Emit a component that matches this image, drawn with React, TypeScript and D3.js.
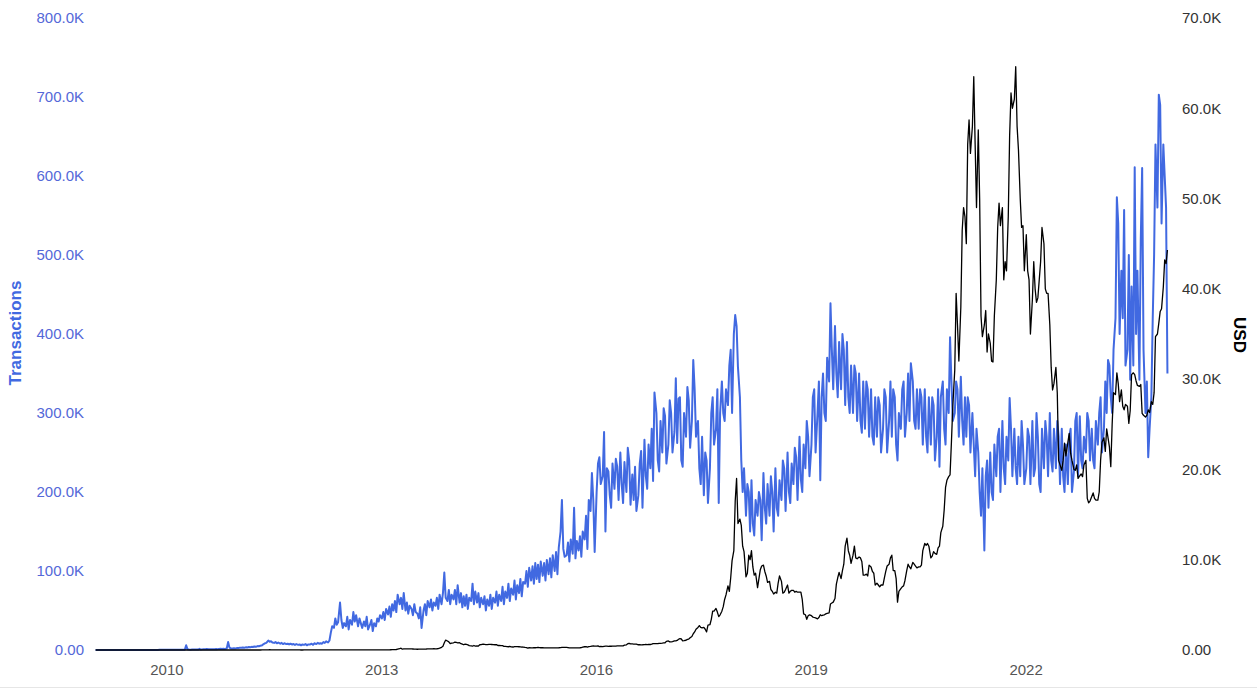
import React, { useMemo } from "react";
import * as d3 from "d3";

// daily transactions (4 samples per month), one array per year
const tx2009 = [0.1,0.1,0.1,0.1, 0.1,0.1,0.1,0.1, 0.1,0.1,0.1,0.1, 0.1,0.1,0.1,0.1, 0.1,0.1,0.1,0.1, 0.1,0.1,0.1,0.1, 0.1,0.1,0.1,0.1, 0.1,0.1,0.1,0.1, 0.1,0.1,0.1,0.1, 0.1,0.1,0.1,0.1, 0.1,0.1,0.1,0.2, 0.2,0.2,0.2,0.2];
const tx2010 = [0.2,0.3,0.2,0.3, 0.3,0.2,0.3,0.3, 0.3,0.4,0.3,0.4, 0.4,6.0,0.8,0.5, 0.4,0.5,0.6,0.5, 0.5,0.6,1.5,0.6, 0.8,1.0,0.9,1.2, 1.0,1.1,0.9,1.0, 1.0,1.2,1.1,1.3, 1.5,1.2,1.6,1.4, 1.8,10.0,3.0,2.0, 1.8,2.2,2.0,2.4];
const tx2011 = [2.5,3.0,2.8,3.2, 3.0,3.5,3.2,3.8, 3.5,4.0,3.8,4.5, 4.2,5.0,4.8,5.5, 6.0,7.5,8.5,9.0, 12.0,10.5,11.0,9.5, 9.0,10.0,8.5,9.5, 8.0,9.0,7.5,8.5, 7.5,8.0,7.0,8.0, 7.0,7.5,6.5,7.5, 6.5,7.0,6.0,7.0, 6.5,7.5,6.0,7.0];
const tx2012 = [7,8,6.5,8.5, 7.5,9,8,8.5, 8,10,9,11, 9.5,12,22,30, 28,40,32,35, 60,38,28,34, 30,42,26,38, 32,48,36,44, 30,40,34,28, 36,30,42,26, 32,38,24,34, 30,40,36,44];
const tx2013 = [40,48,38,52, 45,55,42,58, 50,62,48,70, 58,66,52,72, 50,60,46,56, 52,44,58,48, 46,40,54,28, 50,58,44,62, 54,64,50,60, 56,66,52,70, 58,72,98,66, 62,76,58,70];
const tx2014 = [64,76,58,82, 60,72,54,68, 56,70,52,66, 62,84,58,74, 60,72,54,66, 58,68,50,64, 56,70,52,66, 60,74,56,70, 62,80,58,74, 66,84,62,78, 70,88,64,82, 72,90,68,86];
const tx2015 = [84,100,80,104, 88,106,84,110, 90,108,86,112, 94,110,88,114, 96,116,92,120, 100,124,96,130, 150,190,128,118, 120,136,112,140, 122,180,116,138, 126,144,118,150, 140,170,128,190, 176,224,190,124];
const tx2016 = [200,236,244,210, 220,276,150,230, 226,196,180,236, 204,242,232,190, 250,210,186,238, 200,256,240,184, 222,190,232,176, 196,236,252,180, 266,220,204,260, 230,280,214,326, 300,240,226,290, 250,306,296,236];
const tx2017 = [260,316,300,250, 276,344,262,318, 320,240,232,300, 270,333,316,256, 290,367,330,270, 290,230,210,270, 196,250,240,186, 230,300,320,260, 280,330,186,300, 340,300,290,330, 310,360,380,300, 400,424,410,358];
const tx2018 = [320,240,200,230, 170,210,200,150, 215,160,145,190, 170,200,190,139, 224,180,160,210, 170,220,200,150, 230,180,170,215, 190,240,230,176, 250,200,186,236, 210,256,244,190, 270,216,200,260, 230,290,270,220];
const tx2019 = [260,320,330,250, 300,340,215,320, 350,300,290,370, 340,439,380,330, 410,350,320,390, 330,400,380,310, 390,320,300,360, 300,360,350,290, 350,290,275,340, 280,340,330,270, 330,270,260,320, 270,320,310,250];
const tx2020 = [280,330,320,250, 290,340,270,330, 320,260,240,300, 280,330,340,270, 300,350,290,363, 340,290,280,330, 280,330,320,260, 330,270,250,320, 260,320,310,240, 270,330,232,320, 340,280,260,330, 300,396,340,290];
const tx2021 = [300,340,330,270, 346,290,260,320, 270,320,310,250, 300,260,220,280, 250,200,170,230, 126,220,240,180, 250,200,190,260, 220,270,280,200, 290,230,210,270, 240,319,280,220, 280,230,210,270, 220,290,260,210];
const tx2022 = [230,280,270,210, 290,220,230,300, 270,210,200,280, 230,290,270,220, 300,240,226,280, 230,290,270,210, 280,220,200,260, 210,270,280,200, 226,290,300,220, 296,240,230,270, 250,300,290,240, 280,240,230,290];
const tx2023 = [260,300,320,250, 280,340,300,367, 360,320,300,380, 420,573,540,400, 480,420,557,360, 380,500,342,460, 360,611,400,480, 342,520,610,380, 300,340,244,280, 320,420,500,640, 560,703,690,540, 640,600,560,350];

// BTC price in USD (4 samples per month), one array per year
const usd2009 = [0,0,0,0, 0,0,0,0, 0,0,0,0, 0,0,0,0, 0,0,0,0, 0,0,0,0, 0,0,0,0, 0,0,0,0, 0,0,0,0, 0,0,0,0, 0,0,0,0, 0,0,0,0];
const usd2010 = [0,0,0,0, 0,0,0,0, 0,0,0,0, 0,0,0,0, 0,0,0,0, 0,0,0,0, 0.05,0.06,0.07,0.07, 0.07,0.07,0.07,0.06, 0.06,0.06,0.06,0.06, 0.06,0.1,0.12,0.19, 0.22,0.28,0.25,0.28, 0.22,0.24,0.25,0.26];
const usd2011 = [0.3,0.4,0.4,0.5, 0.7,1.0,0.9,0.9, 0.9,0.9,0.8,0.8, 0.7,0.9,1.5,2.5, 3.5,6,7,8, 17,25,17,16, 14.5,14,13.5,13.5, 13,10,11,8, 8,5,5.5,5, 4.5,4,3.3,3.2, 3.2,3,2.5,2.3, 3,3,3.5,4.5];
const usd2012 = [6,7,6.5,5.5, 5.7,5.9,4.6,4.8, 4.9,5.3,5.1,4.8, 4.9,4.8,5,5.1, 5,5.1,5.1,5.2, 5.2,5.7,6.4,6.6, 6.7,7.1,8,8.9, 10,11.5,12,10, 10.5,11,12,12.3, 12.4,11.8,11.7,11, 10.8,11,11.5,12.2, 12.5,13,13.3,13.5];
const usd2013 = [13,15,17,19, 20,24,30,31, 34,47,56,90, 140,200,90,120, 115,120,120,130, 120,110,100,100, 85,90,95,95, 100,105,110,120, 125,130,130,140, 130,140,160,200, 300,420,800,1100, 1000,900,700,750];
const usd2014 = [800,870,840,800, 810,700,650,580, 650,630,580,480, 450,420,500,440, 450,440,580,590, 650,620,590,600, 630,620,610,590, 580,590,500,500, 480,480,410,400, 380,360,390,350, 330,370,380,370, 360,350,330,320];
const usd2015 = [280,270,220,250, 230,225,250,250, 270,290,260,250, 250,240,225,230, 240,240,235,240, 225,230,245,250, 270,290,280,285, 280,265,230,230, 230,240,230,235, 240,250,270,310, 360,380,320,370, 400,440,450,430];
const usd2016 = [430,450,380,390, 370,400,420,430, 410,415,415,420, 420,425,450,460, 450,455,460,530, 580,700,740,670, 670,660,660,655, 580,590,575,580, 600,610,605,610, 610,640,700,700, 710,700,740,740, 760,780,800,960];
const usd2017 = [1000,900,900,920, 1000,1010,1060,1190, 1270,1220,1020,1040, 1080,1180,1210,1350, 1500,1800,2000,2300, 2500,2700,2500,2450, 2500,2300,2000,2750, 2800,3400,4300,4300, 4600,4200,3700,3900, 4300,4800,5600,6100, 7100,6500,8000,9900, 11000,16500,19000,14000];
const usd2018 = [14500,13800,11500,10900, 8100,8500,10500,10000, 11000,9200,8300,8500, 6900,7900,8900,9300, 9400,8700,8200,7500, 7600,6700,6500,6200, 6400,6300,7400,8200, 7600,6300,6400,6700, 7200,6300,6500,6600, 6600,6400,6500,6400, 6400,6400,5600,4000, 3900,3400,3800,3900];
const usd2019 = [3800,3650,3600,3550, 3450,3600,3900,3800, 3850,3900,4000,4050, 4100,5100,5200,5300, 5700,7300,8000,8600, 7900,8800,9500,11500, 12400,11000,10500,9600, 10500,11500,10200,10100, 10300,10200,9800,8300, 8300,8400,8200,9400, 9200,8700,8500,7200, 7400,7200,7000,7200];
const usd2020 = [7200,8000,8700,9300, 9500,10200,10500,8800, 8800,7900,5300,6500, 6800,7000,7100,7700, 8800,9500,9200,9000, 9700,9500,9300,9100, 9200,9200,9400,11000, 11800,11600,11800,11500, 10200,10400,10900,10700, 10600,11300,11500,13000, 13700,15500,18000,18800, 19200,19400,23000,27000];
const usd2021 = [31000,39500,36000,32000, 38000,46500,49000,48000, 45000,56000,58700,55000, 58000,63500,56000,49000, 57600,50000,37000,34700, 36000,37600,33000,35000, 34000,32000,31900,37000, 41000,46800,49500,47000, 49000,41000,43000,42000, 48000,57000,61700,60000, 61000,64600,58000,55400, 50000,46800,47000,42000];
const usd2022 = [46000,42000,41000,35000, 38800,43000,40000,38500, 39000,41000,43000,46800, 45000,40000,39500,39500, 36000,31300,28800,29500, 31300,28500,21000,20500, 19900,21000,22900,21500, 23000,24000,21800,21000, 20000,19900,20500,19000, 19300,19500,19200,20500, 21000,16800,16300,16500, 17000,17400,16800,16600];
const usd2023 = [16600,17500,21000,23000, 23500,22000,24500,23500, 22500,20300,25000,28500, 28300,30700,29500,27500, 28800,27000,26600,27200, 27000,25100,26500,30500, 30700,30500,29800,29300, 29200,29400,26200,26000, 25800,26000,26600,26300, 27500,27200,28500,34700, 35000,36200,37500,37800, 40200,43200,42800,44300];

const years = [2009, 2010, 2011, 2012, 2013, 2014, 2015, 2016, 2017, 2018, 2019, 2020, 2021, 2022, 2023];
const txByYear = [tx2009, tx2010, tx2011, tx2012, tx2013, tx2014, tx2015, tx2016, tx2017, tx2018, tx2019, tx2020, tx2021, tx2022, tx2023];
const usdByYear = [usd2009, usd2010, usd2011, usd2012, usd2013, usd2014, usd2015, usd2016, usd2017, usd2018, usd2019, usd2020, usd2021, usd2022, usd2023];

const xTickYears = [2010, 2013, 2016, 2019, 2022];

const W = 1257;
const H = 693;
const BLUE = "#4169e1";
const FONT = "Arial, 'Liberation Sans', sans-serif";

type Pt = { date: Date; value: number };

// samples sit on day 2, 9, 16, 23 of each month
function toSeries(byYear: number[][], scale: number): Pt[] {
  const out: Pt[] = [];
  byYear.forEach((arr, yi) => {
    arr.forEach((v, i) => {
      const m = Math.floor(i / 4);
      const k = i % 4;
      out.push({ date: new Date(years[yi], m, 2 + 7 * k), value: v * scale });
    });
  });
  return out;
}

const fmt = (v: number) => (v === 0 ? "0.00" : (v / 1000).toFixed(1) + "K");

export default function App() {
  const tx = useMemo(() => toSeries(txByYear, 1000), []);
  const usd = useMemo(() => toSeries(usdByYear, 1), []);

  const x = d3
    .scaleTime()
    .domain([new Date(2009, 0, 1), new Date(2024, 0, 1)])
    .range([95.4, 1169.2]);
  const yTx = d3.scaleLinear().domain([0, 800000]).range([650, 18]);
  const yUsd = d3.scaleLinear().domain([0, 70000]).range([650, 18]);

  const txLine = d3
    .line<Pt>()
    .x((d) => x(d.date))
    .y((d) => yTx(d.value));
  const usdLine = d3
    .line<Pt>()
    .x((d) => x(d.date))
    .y((d) => yUsd(d.value));

  return (
    <svg
      width={W}
      height={H}
      style={{ position: "absolute", left: 0, top: 0, display: "block", background: "#fff" }}
      fontFamily={FONT}
    >
      {/* left axis labels */}
      {yTx.ticks(8).map((t) => (
        <text key={"l" + t} x={84} y={yTx(t)} dy="0.35em" textAnchor="end" fontSize={15} fill="#5468d8">
          {fmt(t)}
        </text>
      ))}
      {/* right axis labels */}
      {yUsd.ticks(7).map((t) => (
        <text key={"r" + t} x={1182} y={yUsd(t)} dy="0.35em" textAnchor="start" fontSize={15} fill="#333">
          {fmt(t)}
        </text>
      ))}
      {/* x axis labels */}
      {xTickYears.map((yr) => (
        <text key={"x" + yr} x={x(new Date(yr, 0, 1))} y={670} dy="0.35em" textAnchor="middle" fontSize={15} fill="#555">
          {yr}
        </text>
      ))}

      <text
        transform={`translate(21,333) rotate(-90)`}
        textAnchor="middle"
        fontSize={17}
        fontWeight="bold"
        fill={BLUE}
      >
        Transactions
      </text>
      <text
        transform={`translate(1234,335) rotate(90)`}
        textAnchor="middle"
        fontSize={17}
        fontWeight="bold"
        fill="#000"
      >
        USD
      </text>

      <path d={txLine(tx) ?? ""} fill="none" stroke={BLUE} strokeWidth={2} strokeLinejoin="round" />
      <path d={usdLine(usd) ?? ""} fill="none" stroke="#000" strokeWidth={1.3} strokeLinejoin="round" />

      <line x1={0} x2={W} y1={687.5} y2={687.5} stroke="#e6e6e6" strokeWidth={1} />
    </svg>
  );
}
